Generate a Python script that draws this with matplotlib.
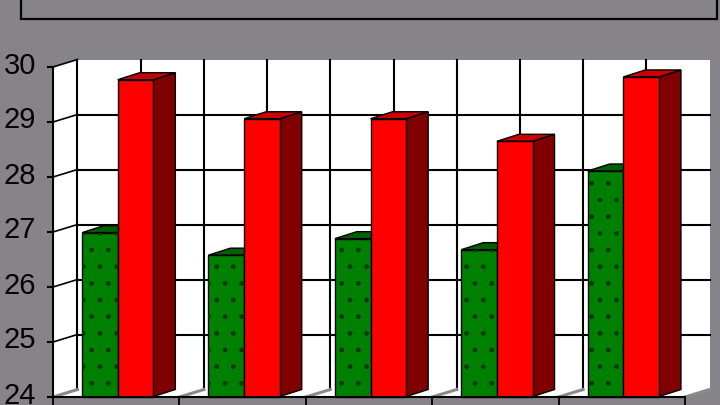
import matplotlib
matplotlib.use("Agg")
import matplotlib.pyplot as plt
from matplotlib.patches import Polygon, Rectangle

# ── data ────────────────────────────────────────────────────────────────────────
groups = ["1", "2", "3", "4", "5"]
green_vals = [26.98, 26.57, 26.87, 26.67, 28.10]
red_vals = [29.76, 29.05, 29.05, 28.64, 29.81]
yticks = [24, 25, 26, 27, 28, 29, 30]
legend_texts = ["Women (years)", "Age", "Men (years)"]

BG = "#868488"
GREEN, GREEN_TOP, GREEN_SIDE = "#008000", "#006000", "#004000"
RED, RED_TOP, RED_SIDE = "#ff0000", "#c80000", "#800000"

# pixel geometry of the old 3-D chart (front plane)
ORG_X, ORG_Y = 53.0, 397.0     # front origin (category 0, value 24)
CAT_PX, UNIT_PX = 126.4, 55.0  # px per category / per value unit
VMIN = yticks[0]

def px_x(p):
    return (p - ORG_X) / CAT_PX

def px_y(p):
    return VMIN + (ORG_Y - p) / UNIT_PX

DX, DY = 24.5 / CAT_PX, 7.5 / UNIT_PX      # wall depth
FX, FY = 1.5 / CAT_PX, 0.5 / UNIT_PX       # bar front offset
BX, BY = 22.0 / CAT_PX, 7.0 / UNIT_PX      # bar depth
W = 0.282                                  # bar width (category units)

fig = plt.figure(figsize=(7.2, 4.05), dpi=100, facecolor=BG)
ax = fig.add_axes([0, 0, 1, 1])
ax.set_xlim(px_x(0), px_x(720))
ax.set_ylim(px_y(405), px_y(0))
ax.axis("off")
ax.patch.set_visible(False)

n = len(groups)
vmax = yticks[-1]

# ── legend box (cut off at top) ─────────────────────────────────────────────────
fig.patches.append(Rectangle((21 / 720, 1 - 19 / 405), (717 - 21) / 720, 0.2,
                             transform=fig.transFigure, facecolor=BG,
                             edgecolor="black", lw=1.6, zorder=0))
for txt, xr in zip(legend_texts, [320, 413, 697]):
    ax.text(px_x(xr), px_y(0.5), txt, ha="right", va="baseline",
            fontsize=20, family="Liberation Sans", color="black")

# ── walls and floor ─────────────────────────────────────────────────────────────
ax.add_patch(Polygon([(DX, VMIN + DY), (n + DX, VMIN + DY), (n + DX, vmax + DY), (DX, vmax + DY)],
                     closed=True, facecolor="white", edgecolor="none", zorder=1))
ax.add_patch(Polygon([(0, VMIN), (DX, VMIN + DY), (DX, vmax + DY), (0, vmax)],
                     closed=True, facecolor="white", edgecolor="none", zorder=1))
ax.add_patch(Polygon([(0, VMIN), (n, VMIN), (n + DX, VMIN + DY), (DX, VMIN + DY)],
                     closed=True, facecolor="white", edgecolor="none", zorder=1))

# back-wall gridlines
for v in yticks[1:-1]:
    ax.plot([DX, n + DX], [v + DY, v + DY], color="black", lw=1.5, zorder=2)
for k in range(2 * n):
    ax.plot([DX + k * 0.5] * 2, [VMIN + DY, vmax + DY], color="black", lw=1.5, zorder=2)
# side-wall gridlines
for v in yticks:
    ax.plot([0, DX], [v, v + DY], color="black", lw=1.2, zorder=2)
# floor gridlines
for c in range(n + 1):
    ax.plot([c, c + DX], [VMIN, VMIN + DY], color="#8a8a8a", lw=2.2, zorder=2)

# ── axes ────────────────────────────────────────────────────────────────────────
ax.plot([0, 0], [VMIN, vmax], color="black", lw=1.5, zorder=6)
ax.plot([0, n], [VMIN, VMIN], color="black", lw=1.5, zorder=6)
for v in yticks:
    ax.plot([px_x(48), 0], [v, v], color="black", lw=1.5, zorder=6)
    ax.text(px_x(36), v + 1.5 / UNIT_PX, f"{v}", ha="right", va="center",
            fontsize=21, family="Liberation Sans", color="black")
for c in range(n + 1):
    ax.plot([c, c], [VMIN, px_y(410)], color="black", lw=1.3, zorder=6)

# ── 3-D bars ────────────────────────────────────────────────────────────────────
def bar3d(x0, v, face, top, side, dotted=False):
    xa, xb = x0 + FX, x0 + W + FX
    b, t = VMIN + FY, v + FY
    kw = dict(closed=True, edgecolor="black", lw=1.0, zorder=4)
    ax.add_patch(Polygon([(xb, b), (xb + BX, b + BY), (xb + BX, t + BY), (xb, t)], facecolor=side, **kw))
    ax.add_patch(Polygon([(xa, t), (xb, t), (xb + BX, t + BY), (xa + BX, t + BY)], facecolor=top, **kw))
    ax.add_patch(Rectangle((xa, b), W, t - b, facecolor=face, edgecolor="black", lw=1.0, zorder=4))
    if dotted:
        ax.add_patch(Rectangle((xa, b), W, t - b, facecolor="none", edgecolor="#003a00",
                               lw=0, hatch=".", zorder=4))

for i, g in enumerate(groups):
    bar3d(i + 0.5 - W, green_vals[i], GREEN, GREEN_TOP, GREEN_SIDE, dotted=True)
    bar3d(i + 0.5, red_vals[i], RED, RED_TOP, RED_SIDE)

fig.savefig("out.png", dpi=100, facecolor=BG)
